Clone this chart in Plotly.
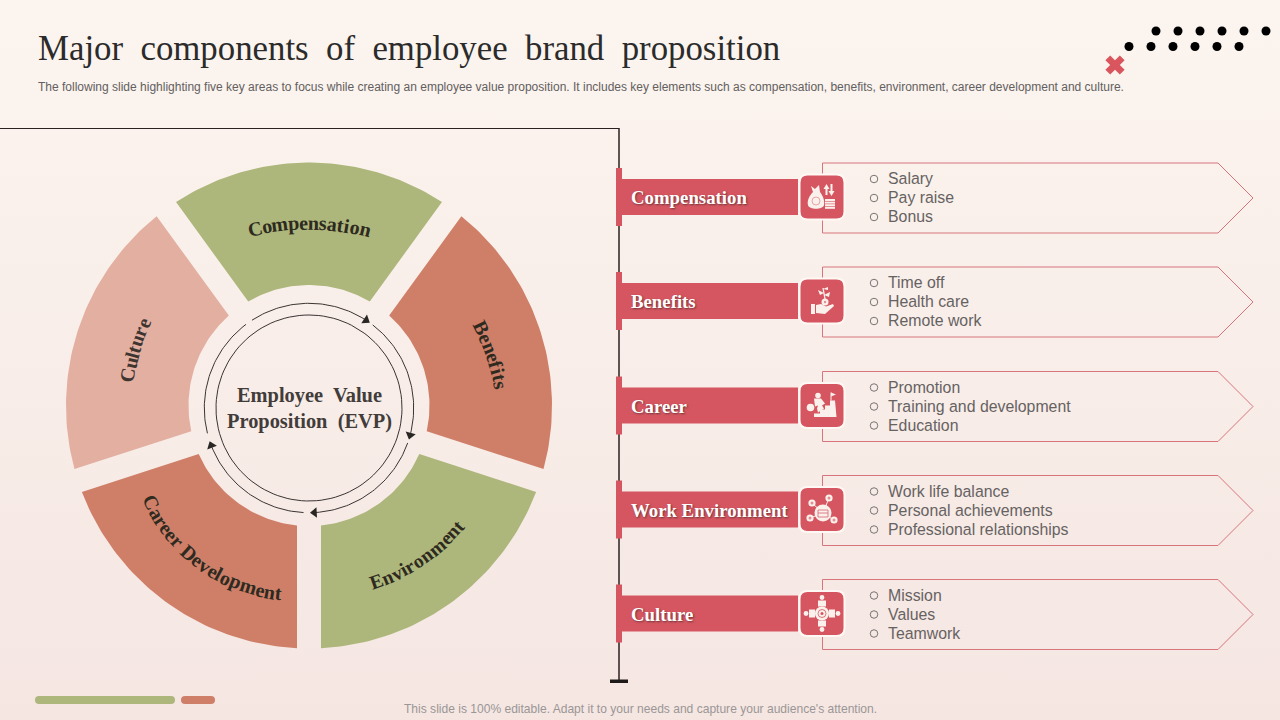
import numpy as np
import plotly.graph_objects as go

title = "Major  components  of  employee  brand  proposition"
subtitle = (
    "The following slide highlighting five key areas to focus while creating an employee value "
    "proposition. It includes key elements such as compensation, benefits, environment, career "
    "development and culture."
)
footer = "This slide is 100% editable. Adapt it to your needs and capture your audience's attention."
hub_lines = ["Employee  Value", "Proposition  (EVP)"]

wedge_names = ["Compensation", "Benefits", "Environment", "Career Development", "Culture"]
wedge_shares = [20, 20, 20, 20, 20]
wedge_colors = ["#ADB67B", "#CF7F68", "#ADB67B", "#CF7F68", "#E3AFA1"]

row_names = ["Compensation", "Benefits", "Career", "Work Environment", "Culture"]
row_items = [
    ["Salary", "Pay raise", "Bonus"],
    ["Time off", "Health care", "Remote work"],
    ["Promotion", "Training and development", "Education"],
    ["Work life balance", "Personal achievements", "Professional relationships"],
    ["Mission", "Values", "Teamwork"],
]

RED = "#D55660"
ICON_WHITE = "#FBF1EC"
CX, CY = 309, 405.5
R_OUT, R_IN, GAP = 243, 120.5, 12
RING_CY = 408

# Times Bold widths, per 1000 em, to space the curved labels
SERIF_BOLD = {
    "a": 500, "b": 556, "c": 444, "e": 444, "f": 333, "i": 278, "l": 278, "m": 833, "n": 556,
    "o": 500, "p": 556, "r": 444, "s": 389, "t": 333, "u": 556, "v": 500, "B": 667, "C": 722,
    "D": 722, "E": 667, " ": 250,
}


def polar(angle, r, cy=CY):
    a = np.radians(angle)
    return CX + r * np.sin(a), cy - r * np.cos(a)


def circle(x, y, r, fill=ICON_WHITE):
    return dict(type="circle", x0=x - r, x1=x + r, y0=y - r, y1=y + r, line_width=0, fillcolor=fill)


def poly(points, fill=ICON_WHITE, line=0, color=None):
    path = "M " + " L ".join(f"{x} {y}" for x, y in points) + " Z"
    return dict(type="path", path=path, fillcolor=fill, line=dict(width=line, color=color or fill))


def seg(x0, y0, x1, y1, width=1, color=ICON_WHITE):
    return dict(type="line", x0=x0, y0=y0, x1=x1, y1=y1, line=dict(width=width, color=color))


def round_box(x0, y0, x1, y1, r):
    return (
        f"M {x0 + r} {y0} L {x1 - r} {y0} Q {x1} {y0} {x1} {y0 + r} L {x1} {y1 - r} "
        f"Q {x1} {y1} {x1 - r} {y1} L {x0 + r} {y1} Q {x0} {y1} {x0} {y1 - r} "
        f"L {x0} {y0 + r} Q {x0} {y0} {x0 + r} {y0} Z"
    )


def icon_money(cy):
    bag = (
        f"M 811 {cy - 11} L 815 {cy - 8} L 819 {cy - 12} L 820 {cy - 5} "
        f"C 823 {cy - 1} 825 {cy + 4} 824 {cy + 8} C 823 {cy + 13} 809 {cy + 13} 808 {cy + 8} "
        f"C 807 {cy + 4} 809 {cy - 1} 813 {cy - 5} Z"
    )
    out = [
        dict(type="path", path=bag, fillcolor=ICON_WHITE, line_width=0),
        dict(type="circle", x0=812, x1=820, y0=cy + 0, y1=cy + 8, line=dict(width=0.8, color="#E58F92"), fillcolor=ICON_WHITE),
        poly([(823.5, cy - 8), (826.5, cy - 13), (829.5, cy - 8)]),
        seg(826.5, cy - 9, 826.5, cy - 2, 2),
        poly([(828.5, cy - 6), (834.5, cy - 6), (831.5, cy - 1)]),
        seg(831.5, cy - 13, 831.5, cy - 5, 2),
    ]
    for k in range(4):
        out.append(poly([(825, cy + 2 + k * 2.6), (835, cy + 2 + k * 2.6), (835, cy + 4 + k * 2.6), (825, cy + 4 + k * 2.6)]))
    return out


def icon_hand(cy):
    return [
        poly([(811, cy + 3), (815, cy + 3), (815, cy + 13), (811, cy + 13)]),
        poly([(816, cy + 4), (821, cy + 3), (826, cy + 5.5), (833, cy + 3), (834, cy + 5), (825, cy + 13), (816, cy + 12)]),
        circle(825, cy + 1, 3.5),
        circle(825, cy + 1, 1.2, "#E58F92"),
        seg(825, cy - 2, 823, cy - 13, 1.3),
        poly([(824, cy - 6), (830, cy - 9), (829, cy - 4)]),
        poly([(824, cy - 8), (818, cy - 11), (820, cy - 6)]),
        poly([(823, cy - 12), (828, cy - 14), (828, cy - 11)]),
    ]


def icon_stairs(cy):
    return [
        poly([(814, cy + 11.5), (814, cy + 8), (820, cy + 8), (820, cy + 4), (825, cy + 4), (825, cy + 0), (830, cy + 0), (830, cy - 5), (835, cy - 5), (836.5, cy + 11.5)]),
        circle(818, cy - 10, 2.8),
        poly([(814, cy - 7), (821, cy - 7), (825, cy - 2), (822, cy + 0), (824, cy + 3), (818, cy + 7), (817, cy + 3), (818, cy + 0), (815, cy + 1)]),
        circle(810.5, cy + 2, 3.8),
        seg(831, cy - 5, 831, cy - 13, 1),
        poly([(831, cy - 13), (836, cy - 11), (831, cy - 9)]),
    ]


def icon_network(cy):
    out = []
    mx, my = 823, cy + 3.5
    for dx, dy in [(-11, -10), (6, -15), (-13, 5), (11, 7)]:
        out.append(seg(mx, my, mx + dx, my + dy, 1))
        out.append(circle(mx + dx, my + dy, 3.6))
        out.append(circle(mx + dx, my + dy, 1.5, "#E58F92"))
    out.append(circle(mx, my, 8.5))
    out.append(poly([(mx - 5, my - 3), (mx + 5, my - 3), (mx + 5, my + 4), (mx - 5, my + 4)], fill=ICON_WHITE, line=0.9, color="#D9727A"))
    out.append(seg(mx - 5, my, mx + 5, my, 0.9, "#D9727A"))
    return out


def icon_people(cy):
    out = []
    for dx, dy in [(0, -1), (0, 1), (-1, 0), (1, 0)]:
        out.append(circle(822 + 16 * dx, cy + 16 * dy, 2.4))
        px, py = 822 + 10 * dx, cy + 10 * dy
        wx, wy = (4 if dx == 0 else 3), (3 if dx == 0 else 4)
        out.append(poly([(px - wx, py - wy), (px + wx, py - wy), (px + wx, py + wy), (px - wx, py + wy)]))
    out.append(circle(822, cy, 7))
    out.append(dict(type="circle", x0=818, x1=826, y0=cy - 4, y1=cy + 4, line=dict(width=0.8, color=RED), fillcolor=ICON_WHITE))
    out.append(circle(822, cy, 1.5, RED))
    return out


fig = go.Figure()

# page background
fig.add_trace(
    go.Scatter(
        x=[0, 1280, 1280, 0, 0],
        y=[0, 0, 720, 720, 0],
        mode="none",
        fill="toself",
        fillgradient=dict(type="vertical", colorscale=[[0, "#F5E6E2"], [1, "#FCF5EF"]]),
        hoverinfo="skip",
    )
)

# donut wedges, clockwise from the top one
start = -wedge_shares[0] * 1.8
for name, share, color in zip(wedge_names, wedge_shares, wedge_colors):
    end = start + share * 3.6
    out_pad = np.degrees(np.arcsin(GAP / R_OUT))
    in_pad = np.degrees(np.arcsin(GAP / R_IN))
    outer = polar(np.linspace(start + out_pad, end - out_pad, 60), R_OUT)
    inner = polar(np.linspace(end - in_pad, start + in_pad, 40), R_IN)
    fig.add_trace(
        go.Scatter(
            x=np.r_[outer[0], inner[0], outer[0][0]],
            y=np.r_[outer[1], inner[1], outer[1][0]],
            mode="lines",
            line_width=0,
            fill="toself",
            fillcolor=color,
            name=name,
            hoverinfo="skip",
        )
    )
    start = end

# ring of arrows around the hub
ring_arcs = [(-33, 33), (37.5, 105), (109.5, 177), (183, 249), (256, 323)]
for a0, a1 in ring_arcs:
    xs, ys = polar(np.linspace(a0, a1, 50), 104.7, RING_CY)
    fig.add_trace(go.Scatter(x=xs, y=ys, mode="lines", line=dict(color="#3A3432", width=1), hoverinfo="skip"))
xs, ys = polar(np.linspace(0, 360, 120), 93, RING_CY)
fig.add_trace(go.Scatter(x=xs, y=ys, mode="lines", line=dict(color="#3A3432", width=1), hoverinfo="skip"))
tips = [a1 for a0, a1 in ring_arcs[:4]]
xs, ys = polar(np.array(tips), 104.7, RING_CY)
fig.add_trace(
    go.Scatter(
        x=xs,
        y=ys,
        mode="markers",
        marker=dict(symbol="triangle-up", size=9, color="#2A2624", angle=[a + 90 for a in tips]),
        hoverinfo="skip",
    )
)

# decoration top right
fig.add_trace(
    go.Scatter(
        x=[1156, 1178, 1200, 1222, 1244, 1266, 1129, 1151, 1173, 1195, 1217, 1239],
        y=[31] * 6 + [46.5] * 6,
        mode="markers",
        marker=dict(color="#000000", size=9),
        hoverinfo="skip",
    )
)
fig.add_trace(
    go.Scatter(
        x=[1115],
        y=[65],
        mode="markers",
        marker=dict(symbol="x", color="#D9565F", size=17, line_width=0),
        hoverinfo="skip",
    )
)

shapes = [
    seg(0, 128.5, 619, 128.5, 1, "#2A2020"),
    seg(619, 128, 619, 681, 1.5, "#2A2020"),
    dict(type="rect", x0=610, x1=628, y0=679.5, y1=683, fillcolor="#1E1A1A", line_width=0),
    dict(type="path", path=round_box(35, 696, 175, 704, 4), fillcolor="#ADB67B", line_width=0),
    dict(type="path", path=round_box(181, 696, 215, 704, 4), fillcolor="#CF7F68", line_width=0),
]

annotations = []


def add_text(x, y, text, size, color, family="Liberation Sans", anchor="left", weight=None, angle=0, shadow=None):
    font = dict(family=family, size=size, color=color)
    if weight:
        font["weight"] = weight
    if shadow:
        font["shadow"] = shadow
    annotations.append(
        dict(x=x, y=y, text=text, xref="x", yref="y", showarrow=False, xanchor=anchor, yanchor="middle",
             font=font, textangle=angle, borderpad=0, borderwidth=0)
    )


row_centers = [197, 301, 405.5, 509.5, 613.5]
icons = [icon_money, icon_hand, icon_stairs, icon_network, icon_people]
bullet_x, bullet_y = [], []
for name, items, yc, icon in zip(row_names, row_items, row_centers, icons):
    shapes.append(
        dict(type="path", path=f"M 822.5 {yc - 34} L 1218 {yc - 34} L 1253 {yc + 1} L 1218 {yc + 36} L 822.5 {yc + 36} Z",
             line=dict(color="#D7747C", width=1), fillcolor="rgba(0,0,0,0)")
    )
    shapes.append(dict(type="rect", x0=616, x1=622, y0=yc - 29, y1=yc + 29, fillcolor=RED, line_width=0))
    shapes.append(dict(type="rect", x0=620, x1=798, y0=yc - 18, y1=yc + 18, fillcolor=RED, line_width=0))
    shapes.append(
        dict(type="path", path=round_box(799.5, yc - 22.5, 844.5, yc + 22.5, 8), fillcolor=RED,
             line=dict(color="#FFF8F4", width=2))
    )
    shapes.extend(icon(yc))
    add_text(631, yc + 0.5, name, 18.8, "#FFFFFF", "Liberation Serif", weight=700, shadow="1px 1px 2px #6E3438")
    for k, item in enumerate(items):
        bullet_x.append(874)
        bullet_y.append(yc + (k - 1) * 19 + 1)
        add_text(888, yc + (k - 1) * 19 + 0.7, item, 15.85, "#666262")

fig.add_trace(
    go.Scatter(
        x=bullet_x,
        y=bullet_y,
        mode="markers",
        marker=dict(symbol="circle-open", size=7.5, color="#777373", line_width=1),
        hoverinfo="skip",
    )
)


def curved_label(text, mx, my, theta, rc, size=20, track=0.0, color="#2E2A20"):
    # lay each glyph on a circle of radius rc through (mx, my); negative rc curves upward
    widths = [SERIF_BOLD[c] / 1000 * size + track for c in text]
    total = sum(widths)
    t = np.radians(theta)
    pos = 0.0
    for ch, w in zip(text, widths):
        s = pos + w / 2 - total / 2
        pos += w
        if ch == " ":
            continue
        phi = s / rc
        u = rc * np.sin(phi)
        v = rc * (np.cos(phi) - 1)
        x = mx + u * np.cos(t) + v * np.sin(t)
        y = my + u * np.sin(t) - v * np.cos(t)
        add_text(x, y, ch, size, color, "Liberation Serif", "center", 700, theta + np.degrees(phi))


curved_label(wedge_names[0], 309, 222.5, 0, 230, track=0.1)
curved_label(wedge_names[1], 492.5, 354, 71, 220, track=0.4)
curved_label(wedge_names[2], 420, 560, -34, -190, size=19.5)
curved_label(wedge_names[3], 201.5, 563, 36, -160, track=-0.2)
curved_label(wedge_names[4], 133.5, 350, -74, 230, color="#3E3530")

add_text(309, 395.5, hub_lines[0], 20.4, "#423C3A", "Liberation Serif", "center", 700)
add_text(309, 421, hub_lines[1], 20.4, "#423C3A", "Liberation Serif", "center", 700)
add_text(38, 48, title, 34.8, "#2B2B2B", "Liberation Serif")
add_text(38, 87, subtitle, 12, "#626060")
add_text(640, 708.5, footer, 12.05, "#9A9696", anchor="center")

fig.update_layout(
    width=1280,
    height=720,
    margin=dict(l=0, r=0, t=0, b=0),
    showlegend=False,
    paper_bgcolor="#FBF3EE",
    plot_bgcolor="#FBF3EE",
    xaxis=dict(range=[0, 1280], visible=False, fixedrange=True),
    yaxis=dict(range=[720, 0], visible=False, fixedrange=True),
    shapes=shapes,
    annotations=annotations,
)

fig.write_html("out.html", config=dict(displayModeBar=False), post_script="document.body.style.margin='0';")
